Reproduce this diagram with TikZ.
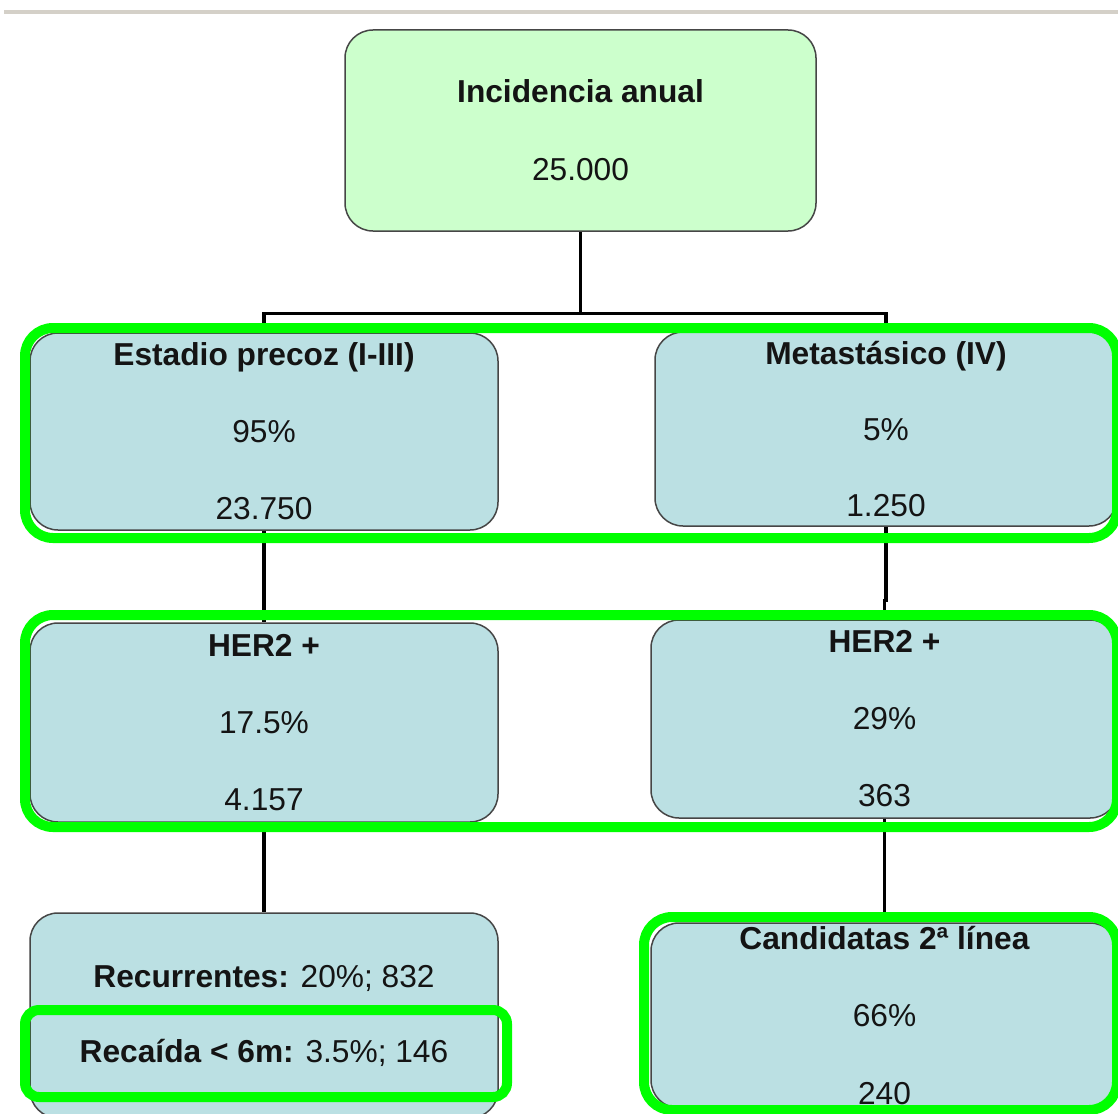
\documentclass[tikz,border=0pt]{standalone}
\usepackage{fontspec}
\setmainfont{Liberation Sans}
\definecolor{boxblue}{RGB}{187,224,227}
\definecolor{topgreen}{RGB}{204,255,204}
\definecolor{boxline}{RGB}{70,70,70}
\definecolor{hlgreen}{RGB}{0,255,0}
\definecolor{rulegray}{RGB}{212,208,200}
\definecolor{txt}{RGB}{20,20,20}
\begin{document}
\begin{tikzpicture}[x=1pt,y=-1pt,
  box/.style={draw=boxline, line width=1.5pt, rounded corners=28pt, fill=boxblue,
    inner sep=0pt, align=center, text=txt, font=\fontsize{31.7}{77}\selectfont},
  conn/.style={draw=black, line width=3.2pt},
  hl/.style={draw=hlgreen, line width=10pt, rounded corners=28pt},
  grayrule/.style={draw=rulegray, line width=4pt}]
\useasboundingbox (0,0) rectangle (1118,1113);
\clip (0,0) rectangle (1118,1113);
\fill[white] (0,0) rectangle (1118,1113);
\draw[grayrule] (4,12) -- (1118,12);

% boxes
\node[box, fill=topgreen, minimum width=471pt, minimum height=201pt, font=\fontsize{31.7}{78}\selectfont]
  (top) at (580.5,130.5) {\textbf{Incidencia anual}\\25.000};
\node[box, minimum width=468pt, minimum height=197pt] (e) at (264,431.5)
  {\textbf{Estadio precoz (I-III)}\\95\%\\23.750};
\node[box, minimum width=462pt, minimum height=194pt, font=\fontsize{31.7}{76}\selectfont] (m) at (886,429)
  {\textbf{Metastásico (IV)}\\5\%\\1.250};
\node[box, minimum width=468pt, minimum height=199pt] (h2l) at (264,722.5)
  {\textbf{HER2 +}\\17.5\%\\4.157};
\node[box, minimum width=467pt, minimum height=198pt] (h2r) at (884.5,719)
  {\textbf{HER2 +}\\29\%\\363};
\node[box, minimum width=468pt, minimum height=205pt, font=\fontsize{31.7}{75}\selectfont] (rl) at (264,1015.5)
  {\textbf{Recurrentes:} 20\%; 832\\\textbf{Recaída < 6m:} 3.5\%; 146};
\node[box, minimum width=467pt, minimum height=185pt, font=\fontsize{31.7}{77.5}\selectfont] (cr) at (884.5,1015.5)
  {\textbf{Candidatas 2ª línea}\\66\%\\240};

% connectors
\draw[conn] (top.south) -- ++(0,82) coordinate (bus);
\draw[conn] (e.north) |- (bus) -| (m.north);
\draw[conn] (e.south) -- (h2l.north);
\draw[conn] (m.south) -- ++(0,74) -| (h2r.north);
\draw[conn] (h2l.south) -- (rl.north);
\draw[conn] (h2r.south) -- (cr.north);

% highlight frames
\draw[hl] (25,328) rectangle (1117,538);
\draw[hl] (25,615) rectangle (1117,827);
\draw[hl, rounded corners=14pt] (25,1010) rectangle (507,1097);
\draw[hl] (644,917) rectangle (1117,1110);
\end{tikzpicture}
\end{document}
